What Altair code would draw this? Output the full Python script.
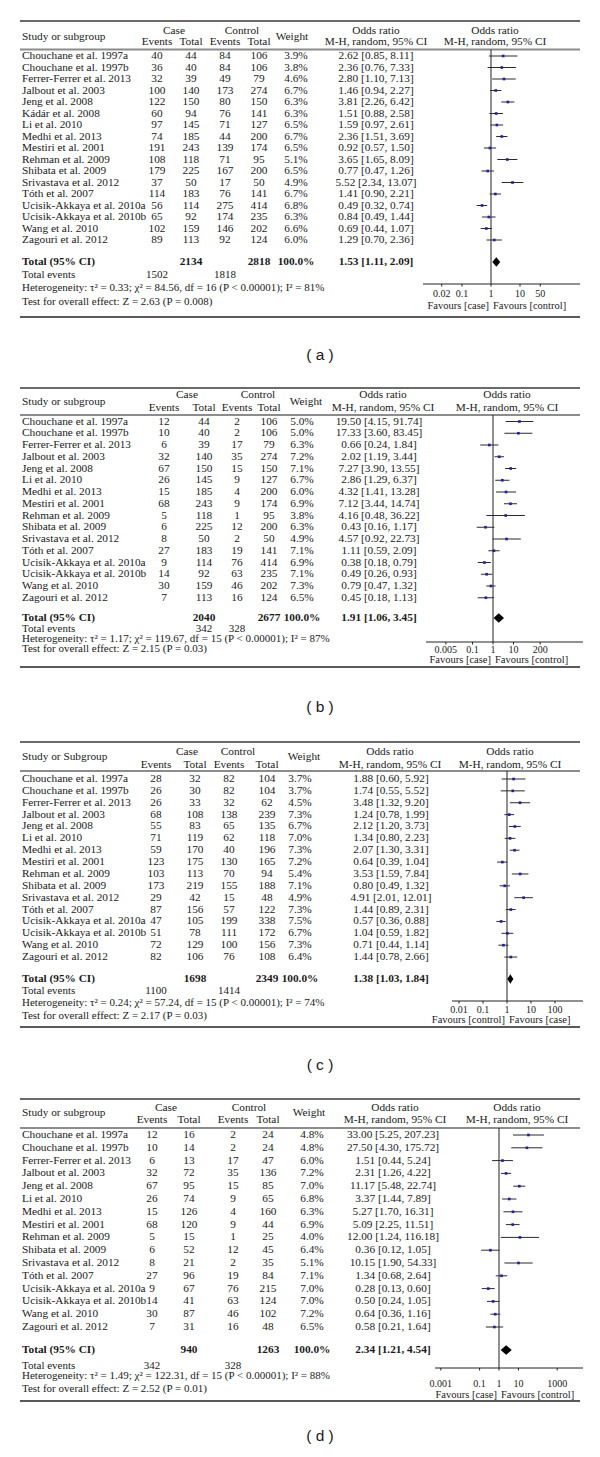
import altair as alt
import pandas as pd

SERIF = "Liberation Serif"
SANS = "Liberation Sans"
INK = "#1a1a1a"

# ---------------- data ----------------
NAMES_A = ["Chouchane et al. 1997a", "Chouchane et al. 1997b", "Ferrer-Ferrer et al. 2013",
           "Jalbout et al. 2003", "Jeng et al. 2008", "Kádár et al. 2008", "Li et al. 2010",
           "Medhi et al. 2013", "Mestiri et al. 2001", "Rehman et al. 2009", "Shibata et al. 2009",
           "Srivastava et al. 2012", "Tóth et al. 2007", "Ucisik-Akkaya et al. 2010a",
           "Ucisik-Akkaya et al. 2010b", "Wang et al. 2010", "Zagouri et al. 2012"]
NAMES_BCD = [n for n in NAMES_A if n != "Kádár et al. 2008"]

A_CASE_E = [40, 36, 32, 100, 122, 60, 97, 74, 191, 108, 179, 37, 114, 56, 65, 102, 89]
A_CASE_T = [44, 40, 39, 140, 150, 94, 145, 185, 243, 118, 225, 50, 183, 114, 92, 159, 113]
A_CTRL_E = [84, 84, 49, 173, 80, 76, 71, 44, 139, 71, 167, 17, 76, 275, 174, 146, 92]
A_CTRL_T = [106, 106, 79, 274, 150, 141, 127, 200, 174, 95, 200, 50, 141, 414, 235, 202, 124]
A_WEIGHT = [3.9, 3.8, 4.6, 6.7, 6.3, 6.3, 6.5, 6.7, 6.5, 5.1, 6.5, 4.9, 6.7, 6.8, 6.3, 6.6, 6.0]
A_OR = [2.62, 2.36, 2.80, 1.46, 3.81, 1.51, 1.59, 2.36, 0.92, 3.65, 0.77, 5.52, 1.41, 0.49, 0.84, 0.69, 1.29]
A_LO = [0.85, 0.76, 1.10, 0.94, 2.26, 0.88, 0.97, 1.51, 0.57, 1.65, 0.47, 2.34, 0.90, 0.32, 0.49, 0.44, 0.70]
A_HI = [8.11, 7.33, 7.13, 2.27, 6.42, 2.58, 2.61, 3.69, 1.50, 8.09, 1.26, 13.07, 2.21, 0.74, 1.44, 1.07, 2.36]
A_TOTAL = ["2134", "2818"]
A_TOTAL_OR = [1.53, 1.11, 2.09]
A_EVENTS = ["1502", "1818"]
A_HET = "Heterogeneity: τ² = 0.33; χ² = 84.56, df = 16 (P < 0.00001); I² = 81%"
A_TEST = "Test for overall effect: Z = 2.63 (P = 0.008)"
A_TICKS = [0.02, 0.1, 1, 10, 50]
A_TICK_LABELS = ["0.02", "0.1", "1", "10", "50"]
A_FAV = ["Favours [case]", "Favours [control]"]

B_CASE_E = [12, 10, 6, 32, 67, 26, 15, 68, 5, 6, 8, 27, 9, 14, 30, 7]
B_CASE_T = [44, 40, 39, 140, 150, 145, 185, 243, 118, 225, 50, 183, 114, 92, 159, 113]
B_CTRL_E = [2, 2, 17, 35, 15, 9, 4, 9, 1, 12, 2, 19, 76, 63, 46, 16]
B_CTRL_T = [106, 106, 79, 274, 150, 127, 200, 174, 95, 200, 50, 141, 414, 235, 202, 124]
B_WEIGHT = [5.0, 5.0, 6.3, 7.2, 7.1, 6.7, 6.0, 6.9, 3.8, 6.3, 4.9, 7.1, 6.9, 7.1, 7.3, 6.5]
B_OR = [19.50, 17.33, 0.66, 2.02, 7.27, 2.86, 4.32, 7.12, 4.16, 0.43, 4.57, 1.11, 0.38, 0.49, 0.79, 0.45]
B_LO = [4.15, 3.60, 0.24, 1.19, 3.90, 1.29, 1.41, 3.44, 0.48, 0.16, 0.92, 0.59, 0.18, 0.26, 0.47, 0.18]
B_HI = [91.74, 83.45, 1.84, 3.44, 13.55, 6.37, 13.28, 14.74, 36.22, 1.17, 22.73, 2.09, 0.79, 0.93, 1.32, 1.13]
B_TOTAL = ["2040", "2677"]
B_TOTAL_OR = [1.91, 1.06, 3.45]
B_EVENTS = ["342", "328"]
B_HET = "Heterogeneity: τ² = 1.17; χ² = 119.67, df = 15 (P < 0.00001); I² = 87%"
B_TEST = "Test for overall effect: Z = 2.15 (P = 0.03)"
B_TICKS = [0.005, 0.1, 1, 10, 200]
B_TICK_LABELS = ["0.005", "0.1", "1", "10", "200"]
B_FAV = ["Favours [case]", "Favours [control]"]

C_CASE_E = [28, 26, 26, 68, 55, 71, 59, 123, 103, 173, 29, 87, 47, 51, 72, 82]
C_CASE_T = [32, 30, 33, 108, 83, 119, 170, 175, 113, 219, 42, 156, 105, 78, 129, 106]
C_CTRL_E = [82, 82, 32, 138, 65, 62, 40, 130, 70, 155, 15, 57, 199, 111, 100, 76]
C_CTRL_T = [104, 104, 62, 239, 135, 118, 196, 165, 94, 188, 48, 122, 338, 172, 156, 108]
C_WEIGHT = [3.7, 3.7, 4.5, 7.3, 6.7, 7.0, 7.3, 7.2, 5.4, 7.1, 4.9, 7.3, 7.5, 6.7, 7.3, 6.4]
C_OR = [1.88, 1.74, 3.48, 1.24, 2.12, 1.34, 2.07, 0.64, 3.53, 0.80, 4.91, 1.44, 0.57, 1.04, 0.71, 1.44]
C_LO = [0.60, 0.55, 1.32, 0.78, 1.20, 0.80, 1.30, 0.39, 1.59, 0.49, 2.01, 0.89, 0.36, 0.59, 0.44, 0.78]
C_HI = [5.92, 5.52, 9.20, 1.99, 3.73, 2.23, 3.31, 1.04, 7.84, 1.32, 12.01, 2.31, 0.88, 1.82, 1.14, 2.66]
C_TOTAL = ["1698", "2349"]
C_TOTAL_OR = [1.38, 1.03, 1.84]
C_EVENTS = ["1100", "1414"]
C_HET = "Heterogeneity: τ² = 0.24; χ² = 57.24, df = 15 (P < 0.00001); I² = 74%"
C_TEST = "Test for overall effect: Z = 2.17 (P = 0.03)"
C_TICKS = [0.01, 0.1, 1, 10, 100]
C_TICK_LABELS = ["0.01", "0.1", "1", "10", "100"]
C_FAV = ["Favours [control]", "Favours [case]"]

D_CASE_E = [12, 10, 6, 32, 67, 26, 15, 68, 5, 6, 8, 27, 9, 14, 30, 7]
D_CASE_T = [16, 14, 13, 72, 95, 74, 126, 120, 15, 52, 21, 96, 67, 41, 87, 31]
D_CTRL_E = [2, 2, 17, 35, 15, 9, 4, 9, 1, 12, 2, 19, 76, 63, 46, 16]
D_CTRL_T = [24, 24, 47, 136, 85, 65, 160, 44, 25, 45, 35, 84, 215, 124, 102, 48]
D_WEIGHT = [4.8, 4.8, 6.0, 7.2, 7.0, 6.8, 6.3, 6.9, 4.0, 6.4, 5.1, 7.1, 7.0, 7.0, 7.2, 6.5]
D_OR = [33.00, 27.50, 1.51, 2.31, 11.17, 3.37, 5.27, 5.09, 12.00, 0.36, 10.15, 1.34, 0.28, 0.50, 0.64, 0.58]
D_LO = [5.25, 4.30, 0.44, 1.26, 5.48, 1.44, 1.70, 2.25, 1.24, 0.12, 1.90, 0.68, 0.13, 0.24, 0.36, 0.21]
D_HI = [207.23, 175.72, 5.24, 4.22, 22.74, 7.89, 16.31, 11.51, 116.18, 1.05, 54.33, 2.64, 0.60, 1.05, 1.16, 1.64]
D_TOTAL = ["940", "1263"]
D_TOTAL_OR = [2.34, 1.21, 4.54]
D_EVENTS = ["342", "328"]
D_HET = "Heterogeneity: τ² = 1.49; χ² = 122.31, df = 15 (P < 0.00001); I² = 88%"
D_TEST = "Test for overall effect: Z = 2.52 (P = 0.01)"
D_TICKS = [0.001, 0.1, 1, 10, 1000]
D_TICK_LABELS = ["0.001", "0.1", "1", "10", "1000"]
D_FAV = ["Favours [case]", "Favours [control]"]

PANELS = [
    dict(label="( a )", study_hdr="Study or subgroup", names=NAMES_A, ce=A_CASE_E, ct=A_CASE_T,
         ke=A_CTRL_E, kt=A_CTRL_T, w=A_WEIGHT, orr=A_OR, lo=A_LO, hi=A_HI, total=A_TOTAL,
         total_or=A_TOTAL_OR, events=A_EVENTS, het=A_HET, test=A_TEST, ticks=A_TICKS,
         tick_labels=A_TICK_LABELS, fav=A_FAV),
    dict(label="( b )", study_hdr="Study or subgroup", names=NAMES_BCD, ce=B_CASE_E, ct=B_CASE_T,
         ke=B_CTRL_E, kt=B_CTRL_T, w=B_WEIGHT, orr=B_OR, lo=B_LO, hi=B_HI, total=B_TOTAL,
         total_or=B_TOTAL_OR, events=B_EVENTS, het=B_HET, test=B_TEST, ticks=B_TICKS,
         tick_labels=B_TICK_LABELS, fav=B_FAV),
    dict(label="( c )", study_hdr="Study or Subgroup", names=NAMES_BCD, ce=C_CASE_E, ct=C_CASE_T,
         ke=C_CTRL_E, kt=C_CTRL_T, w=C_WEIGHT, orr=C_OR, lo=C_LO, hi=C_HI, total=C_TOTAL,
         total_or=C_TOTAL_OR, events=C_EVENTS, het=C_HET, test=C_TEST, ticks=C_TICKS,
         tick_labels=C_TICK_LABELS, fav=C_FAV),
    dict(label="( d )", study_hdr="Study or subgroup", names=NAMES_BCD, ce=D_CASE_E, ct=D_CASE_T,
         ke=D_CTRL_E, kt=D_CTRL_T, w=D_WEIGHT, orr=D_OR, lo=D_LO, hi=D_HI, total=D_TOTAL,
         total_or=D_TOTAL_OR, events=D_EVENTS, het=D_HET, test=D_TEST, ticks=D_TICKS,
         tick_labels=D_TICK_LABELS, fav=D_FAV),
]

# ---------------- layout (page pixels) ----------------
GEOM = [
    dict(top=8, height=364, top_line=21, hdr1=31, hdr2=42, hdr_mid=36.5, hline=49.5, row0=56, dy=11.5,
         total=262, tevents=275, het=288, test=302, bottom=317, axis=284, ticklab=294, fav=306, cap=355,
         ce=157, ct=191, ke=225, kt=259, w=296, orc=376, case_hdr=174, ctrl_hdr=242, w_hdr=292,
         or_hdr=376, f_hdr=495, x1=491, ppd=29, L=423, R=580, ev_cols=("ce", "ke")),
    dict(top=372, height=348, top_line=388, hdr1=395, hdr2=408, hdr_mid=402, hline=415, row0=421.5, dy=11.75,
         total=618, tevents=629, het=639, test=649, bottom=667, axis=642, ticklab=649.5, fav=660, cap=707,
         ce=164, ct=204, ke=237, kt=269, w=302, orc=379, case_hdr=187, ctrl_hdr=258, w_hdr=306,
         or_hdr=383, f_hdr=507, x1=493, ppd=20.5, L=426, R=583, ev_cols=("ct", "ke")),
    dict(top=720, height=362, top_line=742, hdr1=752, hdr2=765, hdr_mid=757, hline=771, row0=779, dy=11.87,
         total=979, tevents=991, het=1003, test=1016, bottom=1027, axis=1001, ticklab=1010, fav=1020, cap=1065,
         ce=156, ct=195, ke=229, kt=267, w=300, orc=391, case_hdr=187, ctrl_hdr=238, w_hdr=304,
         or_hdr=390, f_hdr=510, x1=507, ppd=24, L=452, R=583, ev_cols=("ce", "ke")),
    dict(top=1082, height=367, top_line=1099, hdr1=1108, hdr2=1120, hdr_mid=1113, hline=1128, row0=1135, dy=12.8,
         total=1350, tevents=1366, het=1376, test=1389, bottom=1401, axis=1368, ticklab=1384, fav=1395, cap=1436,
         ce=152, ct=189, ke=233, kt=268, w=312, orc=393, case_hdr=166, ctrl_hdr=249, w_hdr=309,
         or_hdr=395, f_hdr=517, x1=499, ppd=19.4, L=435, R=583, ev_cols=("ce", "ke")),
]

ROW_FS = 11.3
SUM_FS = 11.0


def build_panel(p, g):
    H = g["height"]
    top = g["top"]

    def ly(v):
        return v - top

    def lx(v):
        return v - 8

    ysc = alt.Scale(domain=[0, H], range=[0, H])

    def Yf(f="y"):
        return alt.Y(f"{f}:Q", scale=ysc, axis=None)

    dlo = 10 ** ((g["L"] - g["x1"]) / g["ppd"])
    dhi = 10 ** ((g["R"] - g["x1"]) / g["ppd"])
    xsc = alt.Scale(type="log", domain=[dlo, dhi], range=[lx(g["L"]), lx(g["R"])])

    def Xf(f):
        return alt.X(f"{f}:Q", scale=xsc, axis=None)

    layers = []

    def hrule(yv, color, sw):
        df = pd.DataFrame({"y": [ly(yv)]})
        return alt.Chart(df).mark_rule(color=color, strokeWidth=sw).encode(
            x=alt.value(lx(20)), x2=alt.value(lx(580)), y=Yf())

    layers += [hrule(g["top_line"], "#3a3a3a", 1.4), hrule(g["hline"], "#8c8c8c", 2.2),
               hrule(g["bottom"], "#222222", 1.5)]

    # ---- text items ----
    items = []  # (x, y, text, align, bold, size, font)

    def add(x, y, t, align="center", bold=False, size=ROW_FS, font=SERIF):
        items.append((x, ly(y), str(t), align, bold, size, font))

    add(22, g["hdr_mid"], p["study_hdr"], "left")
    add(g["case_hdr"], g["hdr1"], "Case")
    add(g["ctrl_hdr"], g["hdr1"], "Control")
    add(g["ce"], g["hdr2"], "Events")
    add(g["ct"], g["hdr2"], "Total")
    add(g["ke"], g["hdr2"], "Events")
    add(g["kt"], g["hdr2"], "Total")
    add(g["w_hdr"], g["hdr_mid"], "Weight")
    for cx in (g["or_hdr"], g["f_hdr"]):
        add(cx, g["hdr1"], "Odds ratio")
        add(cx, g["hdr2"], "M-H, random, 95% CI")

    n = len(p["names"])
    ys = [g["row0"] + i * g["dy"] for i in range(n)]
    for i in range(n):
        y = ys[i]
        add(22, y, p["names"][i], "left")
        add(g["ce"], y, p["ce"][i])
        add(g["ct"], y, p["ct"][i])
        add(g["ke"], y, p["ke"][i])
        add(g["kt"], y, p["kt"][i])
        add(g["w"], y, f"{p['w'][i]:.1f}%")
        add(g["orc"], y, f"{p['orr'][i]:.2f} [{p['lo'][i]:.2f}, {p['hi'][i]:.2f}]")

    t_or = p["total_or"]
    add(22, g["total"], "Total (95% CI)", "left", True)
    add(g["ct"], g["total"], p["total"][0], "center", True)
    add(g["kt"], g["total"], p["total"][1], "center", True)
    add(g["w"], g["total"], "100.0%", "center", True)
    add(g["orc"], g["total"], f"{t_or[0]:.2f} [{t_or[1]:.2f}, {t_or[2]:.2f}]", "center", True)
    add(22, g["tevents"], "Total events", "left", size=SUM_FS)
    add(g[g["ev_cols"][0]], g["tevents"], p["events"][0], size=SUM_FS)
    add(g[g["ev_cols"][1]], g["tevents"], p["events"][1], size=SUM_FS)
    add(22, g["het"], p["het"], "left", size=SUM_FS)
    add(22, g["test"], p["test"], "left", size=SUM_FS)
    add(320, g["cap"], p["label"], "center", size=15.5, font=SANS)

    groups = {}
    for (x, y, t, align, bold, size, font) in items:
        groups.setdefault((x, align, bold, size, font), []).append((y, t))

    text_layers = []
    for (x, align, bold, size, font), rows in groups.items():
        df = pd.DataFrame(rows, columns=["y", "t"])
        text_layers.append(
            alt.Chart(df).mark_text(align=align, baseline="middle", font=font, fontSize=size,
                                    fontWeight="bold" if bold else "normal", color=INK).encode(
                x=alt.value(lx(x)), y=Yf(), text=alt.Text("t:N")))

    # ---- forest plot ----
    studies = pd.DataFrame({"y": [ly(v) for v in ys], "orr": p["orr"], "lo": p["lo"], "hi": p["hi"]})
    ci = alt.Chart(studies).mark_rule(color="#2a2a2a", strokeWidth=1).encode(
        x=Xf("lo"), x2=alt.X2("hi:Q"), y=Yf())
    sq = alt.Chart(studies).mark_square(color="#1f1fa8", size=7, opacity=1).encode(
        x=Xf("orr"), y=Yf())

    yt = ly(g["total"])
    hh = 4.8
    diamond = pd.DataFrame({"x": [t_or[1], t_or[0], t_or[2]],
                            "y": [yt, yt - hh, yt], "y2": [yt, yt + hh, yt]})
    dia = alt.Chart(diamond).mark_area(color="black", orient="vertical", interpolate="linear").encode(
        x=Xf("x"), y=Yf(), y2=alt.Y2("y2:Q"))

    ref = alt.Chart(pd.DataFrame({"x": [1], "y": [ly(g["hline"])], "y2": [ly(g["axis"])]})).mark_rule(
        color="#222", strokeWidth=1).encode(x=Xf("x"), y=Yf(), y2=alt.Y2("y2:Q"))
    axis_line = alt.Chart(pd.DataFrame({"x": [dlo], "x2": [dhi], "y": [ly(g["axis"])]})).mark_rule(
        color="#222", strokeWidth=1).encode(x=Xf("x"), x2=alt.X2("x2:Q"), y=Yf())
    tick_df = pd.DataFrame({"v": p["ticks"], "lab": p["tick_labels"],
                            "y": [ly(g["axis"])] * len(p["ticks"]),
                            "y2": [ly(g["axis"]) + 2.5] * len(p["ticks"]),
                            "ty": [ly(g["ticklab"])] * len(p["ticks"])})
    ticks = alt.Chart(tick_df).mark_rule(color="#222", strokeWidth=1).encode(
        x=Xf("v"), y=Yf(), y2=alt.Y2("y2:Q"))
    tick_lab = alt.Chart(tick_df).mark_text(font=SERIF, fontSize=10, color=INK, baseline="middle").encode(
        x=Xf("v"), y=Yf("ty"), text=alt.Text("lab:N"))
    fav_df = pd.DataFrame({"v": [1], "y": [ly(g["fav"])], "a": [p["fav"][0]], "b": [p["fav"][1]]})
    fav_l = alt.Chart(fav_df).mark_text(font=SERIF, fontSize=10.5, color=INK, align="right", dx=-2,
                                        baseline="middle").encode(x=Xf("v"), y=Yf(), text=alt.Text("a:N"))
    fav_r = alt.Chart(fav_df).mark_text(font=SERIF, fontSize=10.5, color=INK, align="left", dx=2,
                                        baseline="middle").encode(x=Xf("v"), y=Yf(), text=alt.Text("b:N"))

    layers += [ref, axis_line, ticks, ci, sq, dia, tick_lab, fav_l, fav_r]
    layers += text_layers
    return alt.layer(*layers).properties(width=584, height=H)


panels = [build_panel(p, g) for p, g in zip(PANELS, GEOM)]
chart = alt.vconcat(*panels, spacing=0).properties(padding=0, background="white").configure_view(strokeWidth=0)

chart.save("out.html", embed_options={"renderer": "svg", "actions": False})
